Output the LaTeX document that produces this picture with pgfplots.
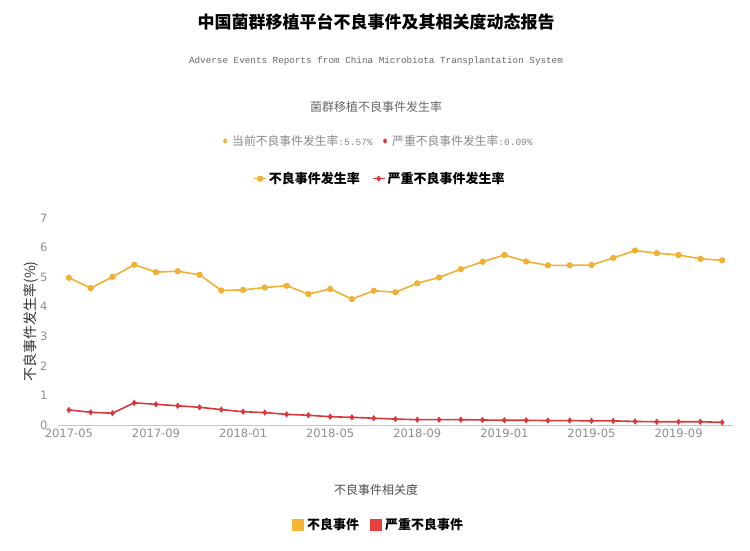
\documentclass[border=0pt]{standalone}
\usepackage{fontspec}
\setmainfont{DejaVu Sans}
\setmonofont{Liberation Mono}
\newfontfamily\cjk{Noto Sans CJK SC}
\usepackage{pgfplots}
\pgfplotsset{compat=1.18}

\definecolor{serY}{HTML}{EFB033}
\definecolor{serR}{HTML}{D9373B}
\definecolor{sqY}{HTML}{F7B534}
\definecolor{sqR}{HTML}{E5423F}
\definecolor{tickgray}{HTML}{8E8E8E}
\definecolor{txtgray}{HTML}{666666}
\definecolor{lightgray}{HTML}{888888}

% month index (0 = 2017-05), rate (%)
\pgfplotstableread{
m  ae    sae
0  4.98  0.51
1  4.63  0.43
2  5.01  0.40
3  5.42  0.75
4  5.17  0.70
5  5.20  0.65
6  5.08  0.60
7  4.55  0.52
8  4.57  0.45
9  4.65  0.42
10 4.71  0.36
11 4.43  0.33
12 4.60  0.28
13 4.26  0.26
14 4.54  0.23
15 4.49  0.20
16 4.79  0.18
17 4.99  0.18
18 5.27  0.18
19 5.52  0.17
20 5.75  0.16
21 5.53  0.16
22 5.40  0.15
23 5.40  0.15
24 5.41  0.14
25 5.65  0.14
26 5.90  0.12
27 5.81  0.11
28 5.75  0.11
29 5.62  0.11
30 5.57  0.09
}\rates

\begin{document}
\begin{tikzpicture}[x=1pt,y=1pt]
\useasboundingbox (0,0) rectangle (750,550);

% headings
\node[font=\cjk\bfseries\fontsize{17}{20}\selectfont] at (376,528)
  {中国菌群移植平台不良事件及其相关度动态报告};
\node[font=\ttfamily\fontsize{9.3}{11}\selectfont, text=txtgray] at (376,489)
  {Adverse Events Reports from China Microbiota Transplantation System};
\node[font=\cjk\fontsize{12}{14}\selectfont, text=txtgray] at (376,443)
  {菌群移植不良事件发生率};

% current values
\fill[serY] (225,409) ellipse (1.8 and 2.5);
\node[font=\cjk\fontsize{11.8}{14}\selectfont, text=lightgray, anchor=west, inner sep=0] at (232,409)
  {当前不良事件发生率{\ttfamily\fontsize{9.5}{11}\selectfont:5.57\%}};
\fill[serR] (385,409) ellipse (1.8 and 2.5);
\node[font=\cjk\fontsize{11.8}{14}\selectfont, text=lightgray, anchor=west, inner sep=0] at (392,409)
  {严重不良事件发生率{\ttfamily\fontsize{9.5}{11}\selectfont:0.09\%}};

\begin{axis}[
  at={(58pt,125pt)}, anchor=south west,
  scale only axis, width=675pt, height=207pt,
  xmin=-0.5, xmax=30.5, ymin=0, ymax=7,
  axis lines*=left,
  x axis line style={draw=gray!45, line width=0.8pt},
  y axis line style={draw=none},
  major tick style={draw=none},
  xtick={0,4,...,28},
  xticklabels={2017-05,2017-09,2018-01,2018-05,2018-09,2019-01,2019-05,2019-09},
  ytick={0,1,...,7},
  /pgf/number format/assume math mode=true,
  tick label style={font=\fontsize{11.5}{13}\selectfont, text=tickgray},
  xticklabel style={yshift=-0.5pt},
  yticklabel style={xshift=-7pt},
  ylabel={\cjk 不良事件发生率(\%)},
  ylabel style={font=\fontsize{14}{16}\selectfont, text=black!80,
    at={(axis description cs:-0.04,0.5)}, anchor=center},
  legend columns=2,
  legend style={at={(axis description cs:0.477,1.19)}, anchor=center, draw=none,
    font=\cjk\bfseries\fontsize{13}{15}\selectfont, inner sep=0pt,
    /tikz/every even column/.append style={column sep=10pt}},
  legend image code/.code={
    \draw[#1, mark repeat=2, mark phase=2] plot coordinates {(0pt,0pt) (6pt,0pt) (12pt,0pt)};},
]
\addplot[serY, line width=1.6pt, mark=*, mark size=2.3pt] table[x=m, y=ae] {\rates};
\addlegendentry{不良事件发生率}
\addplot[serR, line width=1.6pt, mark=diamond*, mark size=1.9pt] table[x=m, y=sae] {\rates};
\addlegendentry{严重不良事件发生率}
\end{axis}

% lower section
\node[font=\cjk\fontsize{12}{14}\selectfont, text=black!70] at (376,60) {不良事件相关度};
\fill[sqY] (292,19) rectangle (304,31);
\node[font=\cjk\bfseries\fontsize{13}{15}\selectfont, anchor=west, inner sep=0] at (307,25) {不良事件};
\fill[sqR] (370,19) rectangle (382,31);
\node[font=\cjk\bfseries\fontsize{13}{15}\selectfont, anchor=west, inner sep=0] at (385,25) {严重不良事件};
\end{tikzpicture}
\end{document}
